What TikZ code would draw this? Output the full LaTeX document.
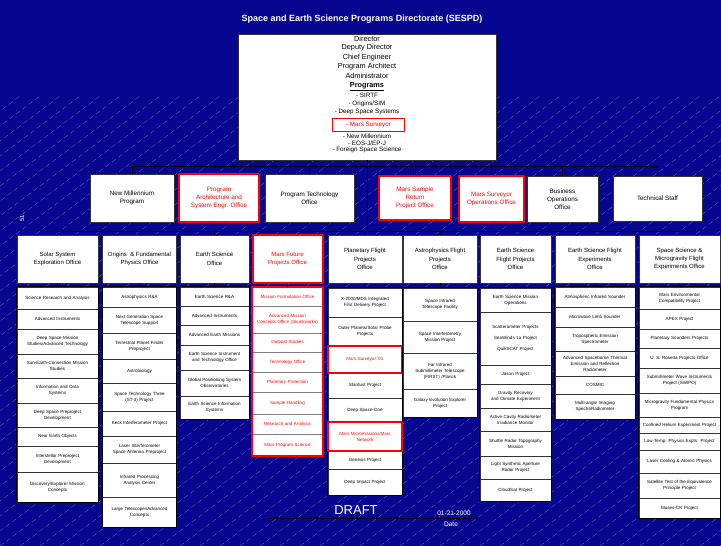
\documentclass[tikz,border=0pt]{standalone}
\usepackage{fontspec}
\setmainfont{Liberation Sans}
\definecolor{navy}{RGB}{6,6,145}
\definecolor{hired}{RGB}{255,0,0}
\newcommand{\itemfont}{\fontsize{4.5}{6}\selectfont}
\newcommand{\headfont}{\fontsize{6}{8.3}\selectfont}
\newcommand{\rowfont}{\fontsize{6.3}{8}\selectfont}
\tikzset{
  box/.style={draw=black!80, fill=white, line width=0.6pt, align=center, inner sep=0pt, font=\headfont},
  redbox/.style={box, draw=hired, line width=2pt, text=hired},
  item/.style={draw=black!80, fill=white, line width=0.4pt, inner sep=0pt, text width=#1, align=center, font=\itemfont},
  ritem/.style={item=#1, draw=black!50, text=hired},
  link/.style={draw=black, line width=0.6pt},
  listbox/.style={draw=black, line width=0.8pt},
  rlist/.style={draw=hired, line width=2pt},
  mark red/.style={draw=hired, line width=1.8pt},
  hatch/.style={white, opacity=0.4, line width=0.3pt, dash pattern=on 5pt off 3pt},
  dirtext/.style={inner sep=0pt, font=\fontsize{7.3}{9}\selectfont},
  progtext/.style={inner sep=0pt, font=\fontsize{6.3}{8}\selectfont},
}
\begin{document}
\begin{tikzpicture}[x=1pt, y=-1pt, line join=round]
% background
\fill[navy] (0,0) rectangle (721,546);
\begin{scope}
  \clip (0,0) rectangle (721,546);
  \foreach \i in {-580,-560,...,720}
    \draw[hatch] (\i,546) -- ++(600,-450);
\end{scope}
\useasboundingbox (0,0) rectangle (721,546);

\node[text=white, font=\bfseries\fontsize{9}{10}\selectfont] (title) at (362,19) {Space and Earth Science Programs Directorate (SESPD)};

% director box
\node[box, minimum width=258, minimum height=126] (dir) at (367,97) {};
\foreach \y/\t [count=\k] in {38.6/{Director}, 47.5/{Deputy Director}, 57.3/{Chief Engineer}, 66.3/{Program Architect}, 76.3/{Administrator}, 86.3/{\textbf{\underline{Programs}}}}
  \node[dirtext] (d\k) at (367,\y) {\t};
\foreach \y/\t [count=\k] in {95/{- SIRTF}, 103.7/{- Origins/SIM}, 111.7/{- Deep Space Systems}, 136.3/{- New Millennium}, 143/{- EOS-J/EP-J}, 149.7/{- Foreign Space Science}}
  \node[progtext] (p\k) at (367,\y) {\t};
\node[progtext, draw=hired, line width=1.8pt, text=hired, minimum width=72, minimum height=13] (msv) at (368.5,125) {- Mars Surveyor};

% second row
\node[box, font=\rowfont, minimum width=84, minimum height=48] (nm) at (132,198) {New Millennium\\Program};
\node[redbox, font=\rowfont, minimum width=80, minimum height=48] (pa) at (219,198) {Program\\Architecture and\\System Engr. Office};
\node[box, font=\rowfont, minimum width=89, minimum height=48] (pt) at (309.5,198) {Program Technology\\Office};
\node[redbox, font=\rowfont, minimum width=72, minimum height=44] (msr) at (415,198) {Mars Sample\\Return\\Project Office};
\node[redbox, font=\rowfont, minimum width=65, minimum height=46] (mso) at (491.5,199) {Mars Surveyor\\Operations Office};
\node[box, font=\rowfont, minimum width=71, minimum height=46] (bo) at (562.5,199) {Business\\Operations\\Office};
\node[box, font=\rowfont, minimum width=89, minimum height=45] (ts) at (657.5,198.5) {Technical Staff};

\coordinate (bus1) at (367,166);
\coordinate (bus2) at (367,231);
\draw[link] (dir.south) -- (bus2);
\foreach \n in {nm,pa,pt,msr,mso,bo,ts}
  \draw[link] (\n.north) -- (\n.north |- bus1);
\draw[link] (nm.north |- bus1) -- (ts.north |- bus1);

% column heads
\node[box, minimum width=81, minimum height=48] (sse) at (57.5,259) {Solar System\\Exploration Office};
\node[box, minimum width=74, minimum height=48] (ori) at (139.5,259) {Origins \ \& Fundamental\\Physics Office};
\node[box, minimum width=69, minimum height=48] (esc) at (214.5,259) {Earth Science\\Office};
\node[redbox, minimum width=70, minimum height=48] (mfp) at (287.5,259) {Mars Future\\Projects Office};
\node[box, minimum width=74, minimum height=48] (pfp) at (365,259) {Planetary Flight\\Projects\\Office};
\node[box, minimum width=74, minimum height=48] (afp) at (440,259) {Astrophysics Flight\\Projects\\Office};
\node[box, minimum width=71, minimum height=48] (efp) at (515.5,259) {Earth Science\\Flight Projects\\Office};
\node[box, minimum width=80, minimum height=48] (efe) at (595,259) {Earth Science Flight\\Experiments\\Office};
\node[box, minimum width=81, minimum height=48] (ssm) at (679.5,259) {Space Science \&\\Microgravity Flight\\Experiments Office};

\foreach \n in {sse,ori,esc,mfp,pfp,afp,efp,efe,ssm}
  \draw[link] (\n.north) -- (\n.north |- bus2);
\draw[link] (sse.north |- bus2) -- (ssm.north |- bus2);

% project lists
\foreach \ya/\yb/\t [count=\k] in {287/309/{Science Research and Analysis}, 309/329/{Advanced Instruments}, 329/354/{Deep Space Mission\\Studies/Advanced Technology}, 354/378/{Sun-Earth-Connection Mission\\Studies}, 378/403/{Information and Data\\Systems}, 403/427/{Deep Space Preproject\\Development}, 427/446/{Near Earth Objects}, 446/472/{Interstellar Preproject\\Development}, 472/502/{Discovery/Explorer Mission\\Concepts}}
  \node[item=81, minimum height={(\yb-\ya)*1pt}] (sse\k) at (57.5,{(\ya+\yb)/2}) {\t};
\draw[listbox] (sse1.north west) rectangle (sse9.south east);

\foreach \ya/\yb/\t [count=\k] in {287/307/{Astrophysics R\&A}, 307/333/{Next Generation Space\\Telescope Support}, 333/359/{Terrestrial Planet Finder\\Preproject}, 359/383/{Astrobiology}, 383/411/{Space Technology Three\\(ST-3) Project}, 411/436/{Keck Interferometer Project}, 436/463/{Laser Interferometer\\Space Antenna Preproject}, 463/497/{Infrared Processing\\Analysis Center}, 497/527/{Large TelescopesAdvanced\\Concepts}}
  \node[item=74, minimum height={(\yb-\ya)*1pt}] (ori\k) at (139.5,{(\ya+\yb)/2}) {\t};
\draw[listbox] (ori1.north west) rectangle (ori9.south east);

\foreach \ya/\yb/\t [count=\k] in {287/306/{Earth Science R\&A}, 306/325/{Advanced Instruments}, 325/345/{Advanced Earth Missions}, 345/370/{Earth Science Instrument\\and Technology Office}, 370/396/{Global Positioning System\\Observatories}, 396/419/{Earth Science Information\\Systems}}
  \node[item=69, minimum height={(\yb-\ya)*1pt}] (esc\k) at (214.5,{(\ya+\yb)/2}) {\t};
\draw[listbox] (esc1.north west) rectangle (esc6.south east);

\foreach \ya/\yb/\t [count=\k] in {287/306/{Mission Formulation Office}, 306/333/{Advanced Mission\\Concepts Office (Skunkworks)}, 333/352/{Outpost Studies}, 352/372/{Technology Office}, 372/392/{Planetary Protection}, 392/414/{Sample Handling}, 414/434/{Research and Analysis}, 434/456/{Mars Program Science}}
  \node[ritem=70, minimum height={(\yb-\ya)*1pt}] (mfp\k) at (287.5,{(\ya+\yb)/2}) {\t};
\draw[rlist] (mfp1.north west) rectangle (mfp8.south east);

\foreach \ya/\yb/\t [count=\k] in {288/317/{X-2000/MDS Integrated\\First Delivery Project}, 317/346/{Outer Planets/Solar Probe\\Projects}, 346/373/{\color{hired}Mars Surveyor '01}, 373/398/{Stardust Project}, 398/422/{Deep Space-One}, 422/451/{\color{hired}Mars Micromissions/Mars\\Network}, 451/469/{Genesis Project}, 469/495/{Deep Impact Project}}
  \node[item=74, minimum height={(\yb-\ya)*1pt}] (pfp\k) at (365,{(\ya+\yb)/2}) {\t};
\draw[listbox] (pfp1.north west) rectangle (pfp8.south east);
\draw[mark red] (pfp3.north west) rectangle (pfp3.south east);
\draw[mark red] (pfp6.north west) rectangle (pfp6.south east);

\foreach \ya/\yb/\t [count=\k] in {288/321/{Space Infrared\\Telescope Facility}, 321/353/{Space Interferometry\\Mission Project}, 353/389/{Far Infrared\\Submillimeter Telescope\\(FIRST) /Planck}, 389/417/{Galaxy Evolution Explorer\\Project}}
  \node[item=74, minimum height={(\yb-\ya)*1pt}] (afp\k) at (440,{(\ya+\yb)/2}) {\t};
\draw[listbox] (afp1.north west) rectangle (afp4.south east);

\foreach \ya/\yb/\t [count=\k] in {288/312/{Earth Science Mission\\Operations}, 312/365/{Scatterometer Projects\\[5pt]SeaWinds 1a Project\\[5pt]QuikSCAT Project}, 365/384/{Jason Project}, 384/408/{Gravity Recovery\\and Climate Experiment}, 408/431/{Active Cavity Radiometer\\Irradiance Monitor}, 431/456/{Shuttle Radar Topography\\Mission}, 456/479/{Light Synthetic Aperture\\Radar Project}, 479/501/{CloudSat Project}}
  \node[item=71, minimum height={(\yb-\ya)*1pt}] (efp\k) at (515.5,{(\ya+\yb)/2}) {\t};
\draw[listbox] (efp1.north west) rectangle (efp8.south east);

\foreach \ya/\yb/\t [count=\k] in {287/307/{Atmospheric Infrared Sounder}, 307/327/{Microwave Limb Sounder}, 327/351/{Tropospheric Emission\\Spectrometer}, 351/376/{Advanced Spaceborne Thermal\\Emission and Reflection\\Radiometer}, 376/394/{COSMIC}, 394/419/{Multi-angle Imaging\\SpectroRadiometer}}
  \node[item=80, minimum height={(\yb-\ya)*1pt}] (efe\k) at (595,{(\ya+\yb)/2}) {\t};
\draw[listbox] (efe1.north west) rectangle (efe6.south east);

\foreach \ya/\yb/\t [count=\k] in {287/309/{Mars Environmental\\Compatibility Project}, 309/329/{APEX Project}, 329/348/{Planetary Sounders Projects}, 348/368/{U. S. Rosetta Projects Office}, 368/393/{Submillimeter Wave Instruments\\Project (SWIPO)}, 393/417/{Microgravity Fundamental Physics\\Program}, 417/433/{Confined Helium Experiment Project}, 433/450/{Low Temp. Physics Expts. Project}, 450/473/{Laser Cooling \& Atomic Physics}, 473/498/{Satellite Test of the Equivalence\\Principle Project}, 498/518/{Muses-CN Project}}
  \node[item=81, minimum height={(\yb-\ya)*1pt}] (ssm\k) at (679.5,{(\ya+\yb)/2}) {\t};
\draw[listbox] (ssm1.north west) rectangle (ssm11.south east);

\foreach \n in {sse,ori,esc,mfp,pfp,afp,efp,efe,ssm}
  \draw[link] (\n.south) -- (\n1.north);

% footer
\draw[black, line width=0.6pt] (268,518) -- (478,518);
\node[text=white, font=\fontsize{13}{14}\selectfont] (draft) at (356,510) {DRAFT};
\node[text=white, font=\fontsize{6.5}{7}\selectfont] (date) at (454,513) {01-21-2000};
\node[text=white, font=\fontsize{6.5}{7}\selectfont] (datelbl) at (451,524) {Date};
\node[text=white, rotate=90, font=\fontsize{6}{7}\selectfont] (pg) at (22,218) {51};
\end{tikzpicture}
\end{document}
